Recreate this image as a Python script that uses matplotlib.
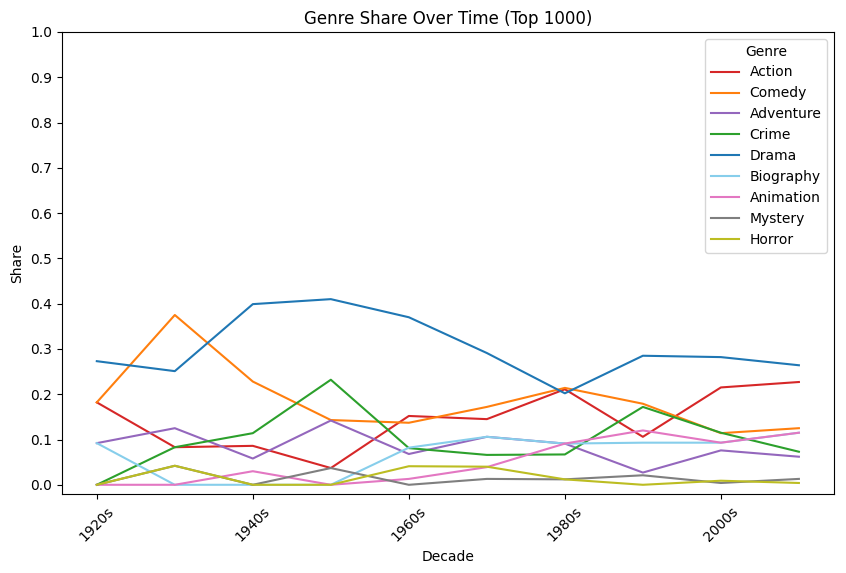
import matplotlib
matplotlib.use('Agg')
import matplotlib.pyplot as plt
import numpy as np

decades = ['1920s', '1930s', '1940s', '1950s', '1960s',
           '1970s', '1980s', '1990s', '2000s', '2010s']

action = [0.182, 0.083, 0.086, 0.037, 0.152, 0.145, 0.211, 0.106, 0.215, 0.227]
comedy = [0.182, 0.375, 0.228, 0.143, 0.137, 0.172, 0.214, 0.179, 0.114, 0.125]
adventure = [0.092, 0.125, 0.058, 0.142, 0.068, 0.106, 0.091, 0.027, 0.076, 0.062]
crime = [0.0, 0.083, 0.114, 0.232, 0.081, 0.066, 0.067, 0.172, 0.115, 0.073]
drama = [0.273, 0.251, 0.399, 0.410, 0.370, 0.291, 0.202, 0.285, 0.282, 0.264]
biography = [0.092, 0.0, 0.0, 0.0, 0.082, 0.106, 0.091, 0.093, 0.093, 0.115]
animation = [0.0, 0.0, 0.030, 0.0, 0.013, 0.039, 0.091, 0.120, 0.093, 0.115]
mystery = [0.0, 0.042, 0.0, 0.037, 0.0, 0.013, 0.012, 0.021, 0.004, 0.013]
horror = [0.0, 0.042, 0.0, 0.0, 0.041, 0.040, 0.012, 0.0, 0.009, 0.004]

genres = ['Action', 'Comedy', 'Adventure', 'Crime', 'Drama',
          'Biography', 'Animation', 'Mystery', 'Horror']
series = [action, comedy, adventure, crime, drama,
          biography, animation, mystery, horror]
colors = ['tab:red', 'tab:orange', 'tab:purple', 'tab:green', 'tab:blue',
          'skyblue', 'tab:pink', 'tab:gray', 'tab:olive']

fig = plt.figure(figsize=(8.46, 5.73), dpi=100)
ax = fig.add_axes([61.7 / 846, 1 - 494.3 / 573, (834 - 61.7) / 846, (494.3 - 32) / 573])

x = np.arange(len(decades))
for name, vals, c in zip(genres, series, colors):
    ax.plot(x, vals, color=c, label=name, linewidth=1.5)

ax.set_xlim(-0.45, 9.45)
ax.set_ylim(-0.021, 1.0)
ax.set_yticks(np.arange(0, 1.01, 0.1))
ax.set_xticks(x[::2])
ax.set_xticklabels(decades[::2], rotation=45)
ax.set_xlabel('Decade')
ax.set_ylabel('Share')
ax.set_title('Genre Share Over Time (Top 1000)')
ax.legend(title='Genre', loc='upper right')

fig.savefig('out.png', dpi=100)
